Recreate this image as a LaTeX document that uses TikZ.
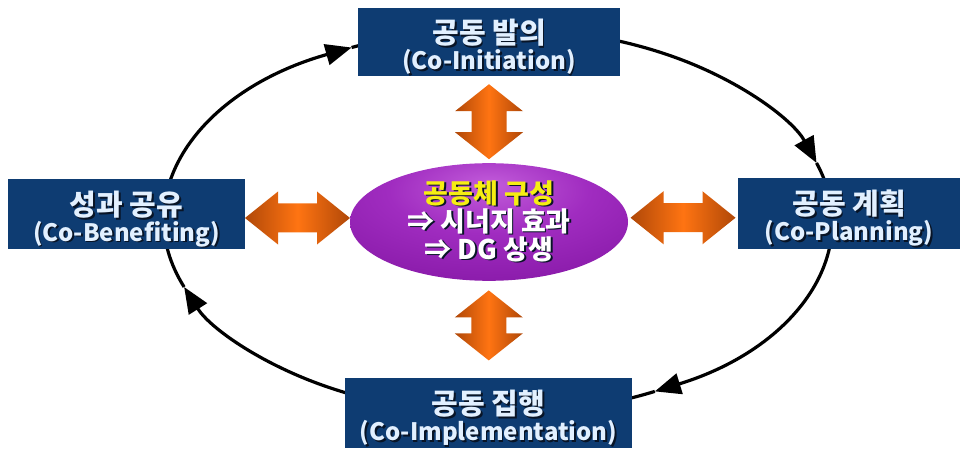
\documentclass[tikz,border=0pt]{standalone}
\usepackage{fontspec}
\newfontfamily\kr{Noto Sans CJK KR}
\usetikzlibrary{arrows.meta,calc,shapes.geometric}

\definecolor{boxblue}{HTML}{0E3C72}
\definecolor{boxtext}{HTML}{E2F0FF}
\definecolor{txtshadow}{HTML}{081426}
\definecolor{hubyellow}{HTML}{F6EE12}
\definecolor{arrdark}{HTML}{B04808}
\definecolor{arrlight}{HTML}{FF7412}
\definecolor{hubA}{HTML}{C25CDA}
\definecolor{hubB}{HTML}{A02CC0}
\definecolor{hubC}{HTML}{8618A6}
\definecolor{hubD}{HTML}{641888}
\definecolor{hubE}{HTML}{4C3A74}

% purple sphere-like fill of the centre ellipse, lit from above
\pgfdeclareradialshading{hubshade}{\pgfpoint{0bp}{16bp}}{%
  color(0bp)=(hubA);
  color(18bp)=(hubB);
  color(40bp)=(hubC);
  color(56bp)=(hubD);
  color(66bp)=(hubE);
  color(100bp)=(hubE)}

% text with a small dark drop shadow
\newcommand\shd[1]{\leavevmode\rlap{\kern1.8pt\raisebox{-1.8pt}{\color{txtshadow}#1}}#1}
\newcommand\latinline{\fontsize{24}{22.5}\selectfont}
% invisible strut that lowers the two-line label inside its box
\newcommand\toppad{\rule{0pt}{36pt}}

\tikzset{
  stagebox/.style={draw=none, fill=boxblue, text=boxtext, inner sep=0pt,
    align=center, font=\kr\bfseries\fontsize{29}{22.5}\selectfont},
  loopline/.style={line width=3.2pt, black,
    -{Triangle[length=26pt,width=21pt]}},
  arrowfill/.style={left color=arrdark, right color=arrdark, middle color=arrlight},
  pics/dblarrow/.style n args={4}{code={%
    % #1 half length, #2 half head width, #3 half shaft width, #4 head length
    \shade[arrowfill] (-#1,0) -- (-#1+#4,#2) -- (-#1+#4,#3) -- (#1-#4,#3)
      -- (#1-#4,#2) -- (#1,0) -- (#1-#4,-#2) -- (#1-#4,-#3)
      -- (-#1+#4,-#3) -- (-#1+#4,-#2) -- cycle;}}
}

\begin{document}
\begin{tikzpicture}[x=1pt,y=1pt]
\useasboundingbox (0,0) rectangle (962,448);

% the cycle behind the four stages
\coordinate (loopc) at (498,227);
\draw[loopline] ($(loopc)+(116:334 and 193)$)
  arc[start angle=116, end angle=17.5, x radius=334, y radius=193];
\draw[loopline] ($(loopc)+(17.5:334 and 193)$)
  arc[start angle=17.5, end angle=-62, x radius=334, y radius=193];
\draw[loopline] ($(loopc)+(-62:334 and 193)$)
  arc[start angle=-62, end angle=-160, x radius=334, y radius=193];
\draw[loopline] ($(loopc)+(-160:334 and 193)$)
  arc[start angle=-160, end angle=-244, x radius=334, y radius=193];

% the four stages
\node[stagebox, minimum width=262pt, minimum height=68pt] (top) at (489,406)
  {\toppad\shd{공동 발의}\\\shd{\latinline (Co-Initiation)}};
\node[stagebox, minimum width=237pt, minimum height=70pt] (left) at (126.5,234)
  {\toppad\shd{성과 공유}\\\shd{\latinline (Co-Benefiting)}};
\node[stagebox, minimum width=222pt, minimum height=71pt] (right) at (849,234.5)
  {\toppad\shd{공동 계획}\\\shd{\latinline (Co-Planning)}};
\node[stagebox, minimum width=287pt, minimum height=70pt] (bottom) at (488.5,35)
  {\toppad\shd{공동 집행}\\\shd{\latinline (Co-Implementation)}};

% centre
\node[ellipse, shading=hubshade, minimum width=278pt, minimum height=114pt,
  inner sep=0pt, align=center, text=white,
  font=\kr\bfseries\fontsize{27}{28}\selectfont] (hub) at (489,226)
  {\textcolor{hubyellow}{\shd{공동체 구성}}\\\shd{⇒ 시너지 효과}\\\shd{⇒ DG 상생}};

% two-way links between the centre and each stage
\pic[rotate=90] at ($(top.south)!0.5!(hub.north)+(0,-2)$) {dblarrow={37.5}{34}{17.5}{27}};
\pic[rotate=90] at ($(hub.south)!0.5!(bottom.north)+(0,4)$) {dblarrow={35}{34}{17.5}{27}};
\pic at ($(left.east)!0.5!(hub.west)$) {dblarrow={52.5}{26.5}{14.5}{33}};
\pic at ($(hub.east)!0.5!(right.west)$) {dblarrow={52.5}{26.5}{14.5}{33}};
\end{tikzpicture}
\end{document}
